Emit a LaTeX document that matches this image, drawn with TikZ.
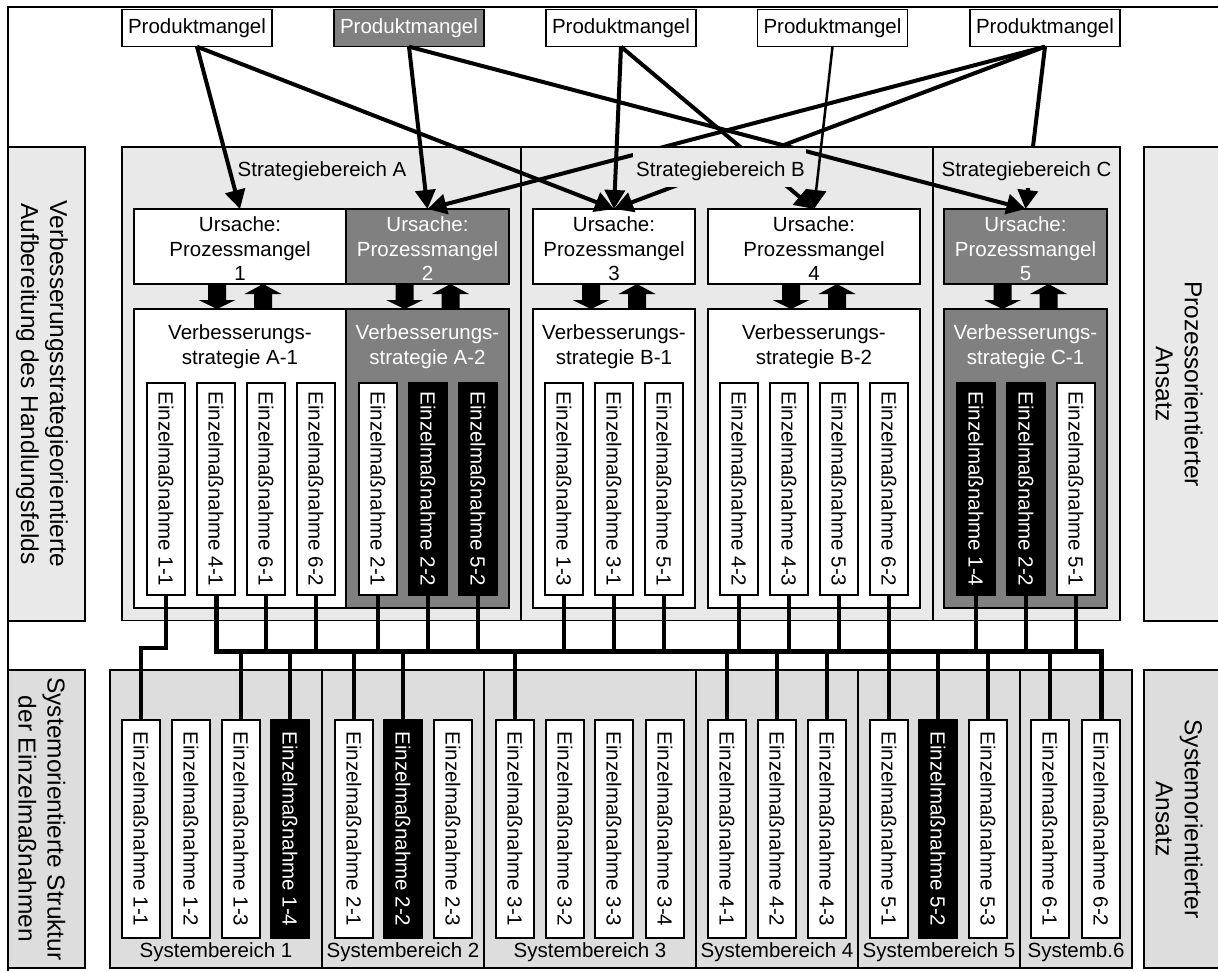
\documentclass[tikz,border=0pt]{standalone}
\usepackage{fontspec}
\setmainfont{Liberation Sans}
\usetikzlibrary{arrows.meta,calc}
\definecolor{bgA}{RGB}{233,233,233}
\definecolor{bgS}{RGB}{221,221,221}
\definecolor{dg}{RGB}{128,128,128}
\newcommand\fsN{\fontsize{20.5}{24.5}\selectfont}
\newcommand\fsL{\fontsize{24.5}{29}\selectfont}
\newcommand\EZ[6]{\node[#5] (#1) at (#2,#3) {};\node[eztext,text=#6] (#1t) at (#1.center) {Einzelmaßnahme #4};}
\newcommand\BlockArrows[1]{%
 \fill ($(#1.south)+(-32,0)$) -- ++(18,0) -- ++(0,16) -- ++(9.5,0) -- ++(-18.5,9) -- ++(-18.5,-9) -- ++(9.5,0) -- cycle;
 \fill ($(#1.south)+(23,0)$) -- ++(18.5,10) -- ++(-9.5,0) -- ++(0,15) -- ++(-18,0) -- ++(0,-15) -- ++(-9.5,0) -- cycle;}
\begin{document}
\begin{tikzpicture}[x=1pt,y=-1pt,
 box/.style={draw,line width=1.2pt,inner sep=0pt,outer sep=0pt},
 lbltext/.style={rotate=-90,align=center,font=\fsL,inner sep=0pt},
 sbox/.style={box,fill=bgA,minimum height=473.5pt},
 ubox/.style={box,fill=white,minimum height=75pt},
 vbox/.style={box,fill=white,minimum height=299pt},
 ezU/.style={box,fill=white,minimum width=38pt,minimum height=212pt},
 ezUb/.style={ezU,fill=black},
 ezL/.style={box,fill=white,minimum width=38pt,minimum height=218pt},
 ezLb/.style={ezL,fill=black},
 eztext/.style={rotate=-90,font=\fsN,inner sep=0pt},
 ntext/.style={font=\fsN,inner sep=0pt,align=center},
 pbox/.style={box,fill=white,minimum width=150pt,minimum height=37.4pt,font=\fsN},
 sysbox/.style={box,fill=bgS,minimum height=298pt},
 parr/.style={line width=4pt,-{Triangle[length=19pt,width=20pt]}},
 parrthin/.style={parr,line width=2.5pt},
 conn/.style={line width=4pt},
 busline/.style={line width=5pt},
]
\useasboundingbox (0,0) rectangle (1218,970);

% side label boxes
\node[box,fill=bgA,minimum width=77pt,minimum height=474pt] (lL1) at (46.5,384) {};
\node[box,fill=bgS,minimum width=77pt,minimum height=298pt] (lL2) at (46.5,819) {};
\node[box,fill=bgA,minimum width=86pt,minimum height=474pt] (lR1) at (1187,384) {};
\node[box,fill=bgS,minimum width=86pt,minimum height=298pt] (lR2) at (1187,819) {};
\node[lbltext] (lL1t) at (42,384) {Verbesserungsstrategieorientierte\\Aufbereitung des Handlungsfelds};
\node[lbltext] (lL2t) at (42,819) {Systemorientierte Struktur\\der Einzelmaßnahmen};
\node[lbltext] (lR1t) at (1179,384) {Prozessorientierter\\Ansatz};
\node[lbltext] (lR2t) at (1179,819) {Systemorientierter\\Ansatz};

% frame
\draw[line width=2pt] (8,985) -- (8,7) -- (1230,7);

% Strategiebereiche
\node[sbox,minimum width=399pt] (sA) at (321.5,383.75) {};
\node[sbox,minimum width=412pt] (sB) at (727,383.75) {};
\node[sbox,minimum width=187pt] (sC) at (1026.5,383.75) {};

% Ursachen
\node[ubox,minimum width=212pt] (u1) at (240,246.5) {};
\node[ubox,minimum width=163pt,fill=dg] (u2) at (427.5,246.5) {};
\node[ubox,minimum width=162pt] (u3) at (614,246.5) {};
\node[ubox,minimum width=212pt] (u4) at (814,246.5) {};
\node[ubox,minimum width=163pt,fill=dg] (u5) at (1025.5,246.5) {};
\node[ntext,anchor=north] (u1t) at ($(u1.north)+(0,7.8)$) {Ursache:\\Prozessmangel\\1};
\node[ntext,anchor=north,text=white] (u2t) at ($(u2.north)+(0,7.8)$) {Ursache:\\Prozessmangel\\2};
\node[ntext,anchor=north] (u3t) at ($(u3.north)+(0,7.8)$) {Ursache:\\Prozessmangel\\3};
\node[ntext,anchor=north] (u4t) at ($(u4.north)+(0,7.8)$) {Ursache:\\Prozessmangel\\4};
\node[ntext,anchor=north,text=white] (u5t) at ($(u5.north)+(0,7.8)$) {Ursache:\\Prozessmangel\\5};

% Verbesserungsstrategien
\node[vbox,minimum width=212pt] (v1) at (240,458.5) {};
\node[vbox,minimum width=163pt,fill=dg] (v2) at (427.5,458.5) {};
\node[vbox,minimum width=162pt] (v3) at (614,458.5) {};
\node[vbox,minimum width=212pt] (v4) at (814,458.5) {};
\node[vbox,minimum width=163pt,fill=dg] (v5) at (1025.5,458.5) {};
\node[ntext,anchor=north] (v1t) at ($(v1.north)+(0,15.5)$) {Verbesserungs-\\strategie A-1};
\node[ntext,anchor=north,text=white] (v2t) at ($(v2.north)+(0,15.5)$) {Verbesserungs-\\strategie A-2};
\node[ntext,anchor=north] (v3t) at ($(v3.north)+(0,15.5)$) {Verbesserungs-\\strategie B-1};
\node[ntext,anchor=north] (v4t) at ($(v4.north)+(0,15.5)$) {Verbesserungs-\\strategie B-2};
\node[ntext,anchor=north,text=white] (v5t) at ($(v5.north)+(0,15.5)$) {Verbesserungs-\\strategie C-1};

% block arrows
\BlockArrows{u1}
\BlockArrows{u2}
\BlockArrows{u3}
\BlockArrows{u4}
\BlockArrows{u5}

% upper Einzelmassnahmen
\EZ{a11}{166}{489}{1-1}{ezU}{black}
\EZ{a41}{216}{489}{4-1}{ezU}{black}
\EZ{a61}{266}{489}{6-1}{ezU}{black}
\EZ{a62}{316}{489}{6-2}{ezU}{black}
\EZ{a21}{378}{489}{2-1}{ezU}{black}
\EZ{a22}{428}{489}{2-2}{ezUb}{white}
\EZ{a52}{478}{489}{5-2}{ezUb}{white}
\EZ{b13}{564}{489}{1-3}{ezU}{black}
\EZ{b31}{614}{489}{3-1}{ezU}{black}
\EZ{b51}{664}{489}{5-1}{ezU}{black}
\EZ{b42}{739}{489}{4-2}{ezU}{black}
\EZ{b43}{789}{489}{4-3}{ezU}{black}
\EZ{b53}{839}{489}{5-3}{ezU}{black}
\EZ{b62}{889}{489}{6-2}{ezU}{black}
\EZ{c14}{976}{489}{1-4}{ezUb}{white}
\EZ{c22}{1026}{489}{2-2}{ezUb}{white}
\EZ{c51}{1076}{489}{5-1}{ezU}{black}

% Systembereiche
\node[sysbox,minimum width=212pt] (sb1) at (216,819) {};
\node[sysbox,minimum width=162pt] (sb2) at (403,819) {};
\node[sysbox,minimum width=212pt] (sb3) at (590,819) {};
\node[sysbox,minimum width=162pt] (sb4) at (777,819) {};
\node[sysbox,minimum width=162pt] (sb5) at (939,819) {};
\node[sysbox,minimum width=112pt] (sb6) at (1076,819) {};
\node[ntext,anchor=base] (sb1t) at (216,957) {Systembereich 1};
\node[ntext,anchor=base] (sb2t) at (403,957) {Systembereich 2};
\node[ntext,anchor=base] (sb3t) at (590,957) {Systembereich 3};
\node[ntext,anchor=base] (sb4t) at (777,957) {Systembereich 4};
\node[ntext,anchor=base] (sb5t) at (939,957) {Systembereich 5};
\node[ntext,anchor=base] (sb6t) at (1076,957) {Systemb.6};

% lower Einzelmassnahmen
\EZ{l11}{141}{829}{1-1}{ezL}{black}
\EZ{l12}{191}{829}{1-2}{ezL}{black}
\EZ{l13}{241}{829}{1-3}{ezL}{black}
\EZ{l14}{290}{829}{1-4}{ezLb}{white}
\EZ{l21}{354}{829}{2-1}{ezL}{black}
\EZ{l22}{403}{829}{2-2}{ezLb}{white}
\EZ{l23}{453}{829}{2-3}{ezL}{black}
\EZ{l31}{515}{829}{3-1}{ezL}{black}
\EZ{l32}{565}{829}{3-2}{ezL}{black}
\EZ{l33}{614}{829}{3-3}{ezL}{black}
\EZ{l34}{665}{829}{3-4}{ezL}{black}
\EZ{l41}{727}{829}{4-1}{ezL}{black}
\EZ{l42}{777}{829}{4-2}{ezL}{black}
\EZ{l43}{827}{829}{4-3}{ezL}{black}
\EZ{l51}{889}{829}{5-1}{ezL}{black}
\EZ{l52}{938}{829}{5-2}{ezLb}{white}
\EZ{l53}{988}{829}{5-3}{ezL}{black}
\EZ{l61}{1050}{829}{6-1}{ezL}{black}
\EZ{l62}{1101}{829}{6-2}{ezL}{black}

% Produktmangel boxes
\node[pbox] (p1) at (197,28) {Produktmangel};
\node[pbox,fill=dg,text=white] (p2) at (409,28) {Produktmangel};
\node[pbox] (p3) at (621,28) {Produktmangel};
\node[pbox] (p4) at (832.5,28) {Produktmangel};
\node[pbox] (p5) at (1045,28) {Produktmangel};

% product arrows
\draw[parr] (p1.south) -- (u1.north);
\draw[parr] (p1.south) -- (u3.north);
\draw[parr] (p2.south) -- (u2.north);
\draw[parr] (p2.south) -- (u5.north);
\draw[parr] (p3.south) -- (u3.north);
\draw[parr] (p3.south) -- (u4.north);
\draw[parrthin] (p4.south) -- (u4.north);
\draw[parr] (p5.south) -- (u2.north);
\draw[parr] (p5.south) -- (u3.north);
\draw[parr] (p5.south) -- (u5.north);

% label backgrounds hiding line parts, and labels
\fill[bgA] (633,147.8) rectangle (806,187);
\fill[bgA] (1000,147.8) rectangle (1060,188);
\node[ntext,anchor=base] (sAt) at (322,176.7) {Strategiebereich A};
\node[ntext,anchor=base] (sBt) at (720.5,176.7) {Strategiebereich B};
\node[ntext,anchor=base] (sCt) at (1026.5,176.7) {Strategiebereich C};

% bus connections
\coordinate (busL) at (216,651);
\coordinate (busR) at (1101,651);
\coordinate (k11) at (141,648);
\draw[conn] (a11.south) |- (k11) -- (l11.north);
\foreach \n in {a61,a62,a21,a22,a52,b13,b31,b51,b42,b43,b53,b62,c14,c22,c51}
  \draw[conn] (\n.south) -- (\n.south |- busL);
\foreach \n in {l13,l14,l21,l22,l31,l41,l42,l43,l51,l52,l53,l61}
  \draw[conn] (busL -| \n.north) -- (\n.north);
\draw[busline] (a41.south) |- (busR) -- (l62.north);
\end{tikzpicture}
\end{document}
